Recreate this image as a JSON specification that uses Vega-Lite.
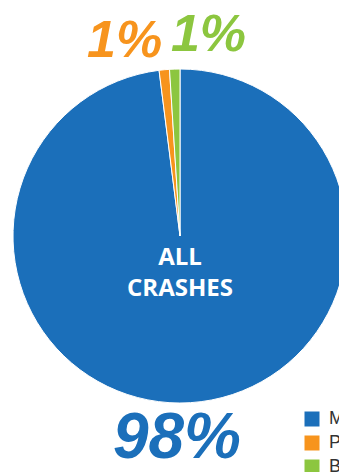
{
  "$schema": "https://vega.github.io/schema/vega-lite/v6.json",
  "width": 360,
  "height": 472,
  "padding": 0,
  "autosize": {"type": "none"},
  "background": "white",
  "config": {"view": {"stroke": null}},
  "datasets": {
    "crashes": [
      {"mode": "Motor Vehicle", "share": 98, "label": "98%"},
      {"mode": "Pedestrian", "share": 1, "label": "1%"},
      {"mode": "Bicycle", "share": 1, "label": "1%"}
    ]
  },
  "data": {"name": "crashes"},
  "encoding": {
    "theta": {"field": "share", "type": "quantitative", "stack": true},
    "order": {"field": "o", "type": "quantitative"},
    "color": {
      "field": "mode",
      "type": "nominal",
      "sort": ["Motor Vehicle", "Pedestrian", "Bicycle"],
      "scale": {"domain": ["Motor Vehicle", "Pedestrian", "Bicycle"], "range": ["#1b6fba", "#f7941d", "#8cc63f"]},
      "legend": {
        "title": null,
        "orient": "none",
        "legendX": 303,
        "legendY": 410,
        "symbolType": "square",
        "symbolSize": 225,
        "symbolStrokeWidth": 0,
        "labelFontSize": 18,
        "labelFont": "Liberation Sans",
        "labelColor": "#333333",
        "rowPadding": 6,
        "labelOffset": 8
      }
    }
  },
  "transform": [{"window": [{"op": "row_number", "as": "o"}]}],
  "layer": [
    {
      "mark": {"type": "arc", "radius": 167, "stroke": "white", "strokeWidth": 1}
    },
    {
      "mark": {"type": "text", "radius": 206, "dx": -36, "dy": 10, "fontSize": 52, "font": "Liberation Sans", "fontWeight": "bold", "fontStyle": "italic", "align": "center", "baseline": "middle"},
      "encoding": {"text": {"condition": {"test": "datum.mode === 'Pedestrian'", "field": "label"}, "value": ""}}
    },
    {
      "mark": {"type": "text", "radius": 206, "dx": 35, "dy": 5, "fontSize": 52, "font": "Liberation Sans", "fontWeight": "bold", "fontStyle": "italic", "align": "center", "baseline": "middle"},
      "encoding": {"text": {"condition": {"test": "datum.mode === 'Bicycle'", "field": "label"}, "value": ""}}
    },
    {
      "mark": {"type": "text", "radius": 206, "dx": -16, "dy": -3, "fontSize": 64, "font": "Liberation Sans", "fontWeight": "bold", "fontStyle": "italic", "align": "center", "baseline": "middle"},
      "encoding": {"text": {"condition": {"test": "datum.mode === 'Motor Vehicle'", "field": "label"}, "value": ""}}
    },
    {
      "data": {"values": [{"caption": ["ALL", "CRASHES"]}]},
      "transform": [],
      "mark": {"type": "text", "color": "white", "fontSize": 24, "font": "Open Sans", "fontWeight": "bold", "align": "center", "baseline": "middle", "lineHeight": 31, "dy": 22},
      "encoding": {"text": {"field": "caption"}, "theta": null, "order": null, "color": null}
    }
  ]
}
